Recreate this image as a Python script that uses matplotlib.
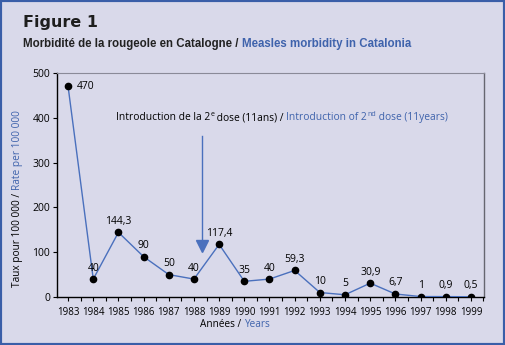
import matplotlib
matplotlib.use('Agg')
import matplotlib.pyplot as plt
from matplotlib.patches import Rectangle
from matplotlib.transforms import IdentityTransform
from matplotlib.ticker import MultipleLocator

# data
years = list(range(1983, 2000))
rates = [470, 40, 144.3, 90, 50, 40, 117.4, 35, 40, 59.3, 10, 5, 30.9, 6.7, 1, 0.9, 0.5]
labels = ['470', '40', '144,3', '90', '50', '40', '117,4', '35', '40', '59,3',
          '10', '5', '30,9', '6,7', '1', '0,9', '0,5']
dose2_year = 1988.3

bg = '#d9d9ea'
blue = '#3f63ac'
line_blue = '#4a70bd'
font = 'Open Sans'

plt.rcParams['font.family'] = [font, 'DejaVu Sans']

fig = plt.figure(figsize=(5.05, 3.45), dpi=100)
fig.patch.set_facecolor(bg)
fig.patches.append(Rectangle((0, 0), 1, 1, transform=fig.transFigure, fill=False,
                             edgecolor='#3a5ea8', linewidth=3, zorder=10))

ax = fig.add_axes([57/505, 1 - 297/345, 427/505, 224/345])
ax.set_facecolor(bg)

ax.plot(years, rates, color=line_blue, lw=1, marker='o', ms=4.5,
        mfc='black', mec='black', zorder=3)

for i, (x, y, s) in enumerate(zip(years, rates, labels)):
    if i == 0:
        ax.annotate(s, (x, y), xytext=(6, 0), textcoords='offset points',
                    ha='left', va='center', fontsize=7.5)
    else:
        ax.annotate(s, (x, y), xytext=(0, 4), textcoords='offset points',
                    ha='center', va='bottom', fontsize=7.5)

# arrow for 2nd dose
ax.plot([dose2_year, dose2_year], [359, 120], color=line_blue, lw=1)
ax.plot([dose2_year], [113], marker='v', ms=9, color=line_blue, mec=line_blue)

ax.set_xlim(1982.56, 1999.52)
ax.set_ylim(0, 500)
ax.set_xticks(years)
ax.set_xticklabels([str(y) for y in years])
ax.xaxis.set_minor_locator(MultipleLocator(0.5))
ax.set_yticks(range(0, 501, 100))
ax.tick_params(axis='both', labelsize=7.5, length=3, width=0.8, color='black', pad=2)
ax.tick_params(axis='x', which='minor', length=3, width=0.8)
ax.tick_params(axis='x', labelsize=7, pad=4)

for side in ['left', 'bottom']:
    ax.spines[side].set_color('black')
    ax.spines[side].set_linewidth(1)
ax.spines['top'].set_color('#8a8a98')
ax.spines['top'].set_linewidth(0.8)
ax.spines['right'].set_color('#666670')
ax.spines['right'].set_linewidth(1)

fig.canvas.draw()
renderer = fig.canvas.get_renderer()
H = 345


def chain(pieces, x, y, rotation=0, **kw):
    # place text pieces one after another, in pixel coordinates (origin top-left)
    px, py = x, H - y
    for s, color, size, dy in pieces:
        if rotation == 0:
            t = fig.text(px, py + dy, s, transform=IdentityTransform(), color=color,
                         fontsize=size, ha='left', va='baseline', **kw)
            px += t.get_window_extent(renderer).width
        else:
            t = fig.text(px - dy, py, s, transform=IdentityTransform(), color=color,
                         fontsize=size, ha='left', va='baseline', rotation=90,
                         rotation_mode='anchor', **kw)
            py += t.get_window_extent(renderer).height


fig.text(23 / 505, 1 - 27 / 345, 'Figure 1', fontsize=11.5, fontweight='heavy',
         family='DejaVu Sans', color='#1e1e1e', va='baseline')
chain([('Morbidité de la rougeole en Catalogne / ', '#222222', 8.3, 0),
       ('Measles morbidity in Catalonia', blue, 8.3, 0)], 23, 47,
      family=['Liberation Sans', 'DejaVu Sans'], fontweight='bold')

chain([('Introduction de la 2', 'black', 7.4, 0), ('e', 'black', 5, 4),
       (' dose (11ans) / ', 'black', 7.4, 0), ('Introduction of 2', blue, 7.4, 0),
       ('nd', blue, 5, 4), (' dose (11years)', blue, 7.4, 0)], 116, 120)

chain([('Années / ', 'black', 7.2, 0), ('Years', blue, 7.2, 0)], 200, 327)
chain([('Taux pour 100 000 / ', 'black', 7.3, 0), ('Rate per 100 000', blue, 7.3, 0)],
      20, 287, rotation=90)

fig.savefig('out.png', dpi=100, facecolor=bg)
